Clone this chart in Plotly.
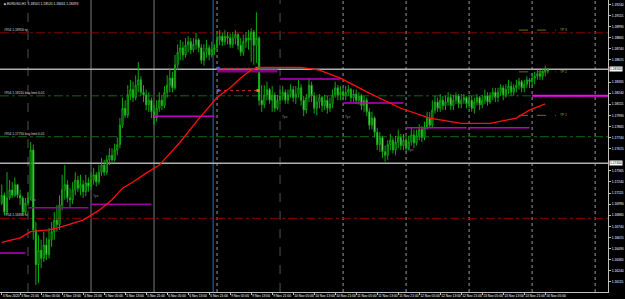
import plotly.graph_objects as go

# ---------------- data (EURUSD H1) ----------------
first_open = 1.1700
close = [
 1.1709,1.1690,1.1706,1.1715,1.1709,1.1721,1.1709,1.1706,1.1690,1.1700,
 1.1706,1.1760,1.1670,1.1631,1.1647,1.1638,1.1653,1.1642,1.1659,1.1668,1.1681,1.1676,1.1698,1.1715,1.1721,1.1706,1.1704,1.1715,1.1726,1.1717,1.1721,1.1713,1.1723,1.1719,
 1.1726,1.1732,1.1724,1.1735,1.1743,1.1735,1.1749,1.1754,1.1749,1.1760,1.1766,1.1788,1.1807,1.1799,1.1822,1.1828,1.1819,1.1833,1.1839,1.1825,1.1822,1.1811,1.1816,1.1803,
 1.1796,1.1807,1.1816,1.1810,1.1825,1.1833,1.1841,1.1830,1.1856,1.1870,1.1875,1.1867,1.1878,1.1882,1.1873,1.1879,1.1884,1.1875,1.1861,1.1870,1.1875,1.1867,1.1873,1.1875,
 1.1884,1.1888,1.1882,1.1888,1.1886,1.1879,1.1886,1.1890,1.1878,1.1870,1.1882,1.1886,1.1884,1.1893,1.1878,1.1886,1.1816,1.1811,1.1822,1.1828,1.1816,1.1822,1.1807,1.1816,
 1.1821,1.1825,1.1816,1.1822,1.1828,1.1819,1.1823,1.1830,1.1816,1.1805,1.1819,1.1833,1.1821,1.1807,1.1814,1.1819,1.1810,1.1816,1.1807,1.1812,1.1822,1.1830,1.1822,1.1825,
 1.1821,1.1825,1.1828,1.1819,1.1823,1.1816,1.1821,1.1810,1.1816,1.1803,1.1788,1.1796,1.1780,1.1766,1.1774,1.1758,1.1754,1.1766,1.1771,1.1760,1.1769,1.1774,1.1765,1.1771,
 1.1762,1.1769,1.1777,1.1768,1.1776,1.1783,1.1774,1.1785,1.1796,1.1788,1.1805,1.1814,1.1807,1.1816,1.1810,1.1814,1.1819,1.1810,1.1816,1.1821,1.1812,1.1816,1.1819,1.1812,
 1.1816,1.1807,1.1814,1.1819,1.1811,1.1816,1.1821,1.1814,1.1821,1.1825,1.1819,1.1825,1.1830,1.1822,1.1828,1.1832,1.1825,1.1830,1.1833,1.1837,1.1830,1.1834,1.1839,1.1837,
 1.1841,1.1843,1.1846,1.1843,1.1848,1.1850,1.1849,
]
high = [
 1.1721,1.1712,1.1735,1.1726,1.1724,1.1729,1.1722,1.1715,1.1708,1.1706,
 1.1713,1.1769,1.1766,1.1679,1.1664,1.1659,1.1668,1.1661,1.1672,1.1679,1.1690,1.1698,1.1709,1.1732,1.1743,1.1726,1.1717,1.1724,1.1735,1.1731,1.1732,1.1726,1.1732,1.1729,
 1.1735,1.1740,1.1735,1.1743,1.1751,1.1749,1.1754,1.1762,1.1762,1.1767,1.1774,1.1796,1.1819,1.1816,1.1833,1.1839,1.1837,1.1844,1.1859,1.1843,1.1833,1.1828,1.1825,1.1819,
 1.1811,1.1816,1.1825,1.1822,1.1832,1.1844,1.1852,1.1848,1.1867,1.1879,1.1884,1.1882,1.1886,1.1888,1.1886,1.1886,1.1892,1.1886,1.1879,1.1879,1.1884,1.1878,1.1882,1.1879,
 1.1893,1.1895,1.1892,1.1895,1.1893,1.1891,1.1893,1.1895,1.1892,1.1886,1.1890,1.1893,1.1895,1.1897,1.1895,1.1915,1.1888,1.1833,1.1833,1.1837,1.1830,1.1832,1.1825,1.1822,
 1.1828,1.1832,1.1828,1.1828,1.1834,1.1832,1.1832,1.1839,1.1834,1.1821,1.1823,1.1841,1.1837,1.1825,1.1822,1.1823,1.1821,1.1822,1.1821,1.1819,1.1828,1.1837,1.1833,1.1832,
 1.1830,1.1832,1.1833,1.1830,1.1828,1.1828,1.1825,1.1823,1.1821,1.1819,1.1807,1.1803,1.1798,1.1785,1.1780,1.1776,1.1765,1.1771,1.1778,1.1774,1.1776,1.1783,1.1778,1.1778,
 1.1776,1.1776,1.1785,1.1783,1.1783,1.1789,1.1787,1.1792,1.1803,1.1803,1.1816,1.1821,1.1819,1.1823,1.1821,1.1821,1.1825,1.1823,1.1822,1.1825,1.1823,1.1823,1.1823,1.1821,
 1.1822,1.1821,1.1819,1.1823,1.1821,1.1822,1.1828,1.1825,1.1825,1.1830,1.1830,1.1830,1.1834,1.1833,1.1834,1.1839,1.1837,1.1834,1.1839,1.1841,1.1839,1.1839,1.1843,1.1841,
 1.1846,1.1848,1.1850,1.1850,1.1852,1.1855,1.1852,
]
low = [
 1.1698,1.1687,1.1688,1.1704,1.1706,1.1707,1.1706,1.1698,1.1687,1.1687,
 1.1697,1.1704,1.1659,1.1608,1.1610,1.1627,1.1634,1.1636,1.1638,1.1651,1.1659,1.1668,1.1670,1.1692,1.1704,1.1701,1.1695,1.1699,1.1709,1.1713,1.1709,1.1706,1.1708,1.1713,
 1.1715,1.1721,1.1719,1.1721,1.1731,1.1731,1.1732,1.1743,1.1745,1.1747,1.1754,1.1762,1.1785,1.1796,1.1796,1.1816,1.1814,1.1816,1.1825,1.1821,1.1814,1.1805,1.1803,1.1796,
 1.1788,1.1792,1.1803,1.1805,1.1807,1.1819,1.1825,1.1825,1.1828,1.1850,1.1861,1.1861,1.1864,1.1870,1.1868,1.1870,1.1873,1.1870,1.1857,1.1855,1.1864,1.1861,1.1864,1.1867,
 1.1873,1.1878,1.1877,1.1878,1.1879,1.1875,1.1875,1.1879,1.1873,1.1866,1.1866,1.1875,1.1873,1.1859,1.1856,1.1858,1.1810,1.1803,1.1807,1.1816,1.1812,1.1803,1.1803,1.1805,
 1.1812,1.1816,1.1812,1.1812,1.1819,1.1814,1.1812,1.1819,1.1810,1.1798,1.1801,1.1814,1.1814,1.1801,1.1799,1.1807,1.1803,1.1805,1.1801,1.1803,1.1807,1.1819,1.1816,1.1816,
 1.1816,1.1816,1.1821,1.1814,1.1814,1.1812,1.1811,1.1805,1.1803,1.1798,1.1783,1.1783,1.1774,1.1760,1.1758,1.1751,1.1747,1.1749,1.1760,1.1756,1.1754,1.1762,1.1760,1.1760,
 1.1758,1.1760,1.1765,1.1762,1.1765,1.1771,1.1769,1.1771,1.1783,1.1785,1.1785,1.1801,1.1803,1.1803,1.1805,1.1805,1.1810,1.1805,1.1805,1.1812,1.1807,1.1807,1.1812,1.1807,
 1.1807,1.1803,1.1801,1.1810,1.1805,1.1807,1.1812,1.1810,1.1812,1.1816,1.1814,1.1814,1.1821,1.1816,1.1819,1.1823,1.1821,1.1821,1.1825,1.1828,1.1825,1.1825,1.1830,1.1830,
 1.1832,1.1834,1.1839,1.1839,1.1839,1.1843,1.1846,
]

# moving average (red line) read at a few bars
ma_bar = [0, 7, 11, 18, 21, 31, 37, 42, 46, 50, 55, 60, 68, 75, 82, 87, 91, 95, 98, 106, 114, 121, 129, 140, 152, 163, 175, 186, 196, 201, 207]
ma_val = [1.1656, 1.1661, 1.1668, 1.1670, 1.1672, 1.1681, 1.1692, 1.1704, 1.1717, 1.1724, 1.1734, 1.1743, 1.1769, 1.1795, 1.1819,
          1.1830, 1.1841, 1.1850, 1.1853, 1.1853, 1.1853, 1.1850, 1.1841, 1.1824, 1.1807, 1.1796, 1.1790, 1.1790, 1.1796, 1.1805, 1.1812]

# daily level segments (magenta)
seg_start = [-1, 10, 34, 58, 82, 106, 130, 154, 178, 202]
seg_end = [9, 33, 57, 81, 105, 129, 153, 177, 201, 231]
seg_price = [1.1644, 1.1695, 1.1699, 1.1798, 1.1849, 1.1840, 1.1813, 1.1785, 1.1785, 1.1821]
seg_color = ["#c000c0", "#a000a0", "#a000a0", "#c000c0", "#800080", "#c000c0", "#c000c0", "#c000c0", "#c000c0", "#ff00ff"]
seg_width = [1.5, 1.5, 1.5, 1.5, 3, 1.5, 1.5, 1.5, 1.5, 2]

# order lines
order_price = [1.1892, 1.1821, 1.1775, 1.1683]
order_text = ["#954 1.18920 tp", "#954 1.18210 buy limit 0.01", "#954 1.17750 buy limit 0.01", "#954 1.16830 sl"]
order_color = ["#8b0000", "#0a6a0a", "#0a6a0a", "#8b0000"]

# horizontal price lines (gray)
hline_price = [1.1851, 1.1745]
hline_label = ["1.18505", "1.17450"]

# target levels at the right (olive)
tgt_price = [1.1895, 1.1848, 1.1799]
tgt_text = ["TP 3", "TP 2", "TP 1"]

# session labels
sess_bar = [10, 34, 106, 130, 154]
sess_price = [1.1704, 1.1708, 1.1797, 1.1797, 1.1760]
sess_text = ["Nyo", "Tyo", "Tyo", "Tyo", "Tyo"]

# day separators (bar index)
sep_bar = [10, 34, 58, 82, 106, 130, 154, 178, 202, 226]
sep_style = ["dash", "solid", "solid", "dot", "dash", "dot", "dot", "dot", "dot", "dot"]
sep_color = ["#505050", "#7a7a7a", "#7a7a7a", "#9a9a9a", "#505050", "#9a9a9a", "#9a9a9a", "#9a9a9a", "#9a9a9a", "#9a9a9a"]

# x-axis labels
xtick_bar = [0, 7, 15, 23, 31, 39, 47, 55, 63, 71, 79, 87, 95, 103, 111, 119, 127, 135, 143, 151, 159, 167, 175, 183, 191, 199, 207]
xtick_text = ["3 Nov 2020", "3 Nov 21:00", "4 Nov 05:00", "4 Nov 13:00", "4 Nov 21:00", "5 Nov 05:00", "5 Nov 13:00",
              "5 Nov 21:00", "6 Nov 05:00", "6 Nov 13:00", "6 Nov 21:00", "9 Nov 05:00", "9 Nov 13:00", "9 Nov 21:00",
              "10 Nov 05:00", "10 Nov 13:00", "10 Nov 21:00", "11 Nov 05:00", "11 Nov 13:00", "11 Nov 21:00",
              "12 Nov 05:00", "12 Nov 13:00", "12 Nov 21:00", "13 Nov 05:00", "13 Nov 13:00", "13 Nov 21:00", "16 Nov 05:00"]

# y-axis labels (those hidden behind the two price boxes are left out)
ytick_text = ["1.15990", "1.16115", "1.16240", "1.16365", "1.16490", "1.16615", "1.16740", "1.16865", "1.16990",
              "1.17115", "1.17240", "1.17365", "1.17615", "1.17740", "1.17865", "1.17990", "1.18115",
              "1.18240", "1.18365", "1.18615", "1.18740", "1.18865", "1.18990", "1.19115", "1.19240"]

# trade history markers
trade_x0 = [82.4, 82.4]
trade_x1 = [97.2, 97.6]
trade_price = [1.1852, 1.1827]

header = "EURUSD,H1  1.18501 1.18520 1.18461 1.18493"

FONT = "Liberation Sans"
FS = 3.3

# ---------------- figure ----------------
open_ = [first_open] + close[:-1]
bars = list(range(len(close)))

fig = go.Figure()

for b, st, col in zip(sep_bar, sep_style, sep_color):
    fig.add_shape(type="line", xref="x", yref="paper", x0=b, x1=b, y0=0, y1=1,
                  line=dict(color=col, width=1, dash=st), layer="below")
fig.add_shape(type="line", xref="x", yref="paper", x0=80.5, x1=80.5, y0=0, y1=1,
              line=dict(color="#2f6f9f", width=1), layer="below")

for p in hline_price:
    fig.add_shape(type="line", xref="paper", yref="y", x0=0, x1=1, y0=p, y1=p,
                  line=dict(color="#b0b0b0", width=1.5), layer="below")

for p, t, c in zip(order_price, order_text, order_color):
    fig.add_shape(type="line", xref="paper", yref="y", x0=0, x1=1, y0=p, y1=p,
                  line=dict(color=c, width=1, dash="dashdot"), layer="below")
    fig.add_annotation(x=0.003, xref="paper", y=p, yref="y", text=t, showarrow=False,
                       xanchor="left", yanchor="bottom", font=dict(size=FS, color="#d8d8d8"), yshift=-1)

for p, t in zip(tgt_price, tgt_text):
    fig.add_trace(go.Scatter(x=[197, 211], y=[p, p], mode="lines", line=dict(color="#6b6b20", width=1, dash="dash"),
                             hoverinfo="skip", showlegend=False))
    fig.add_annotation(x=212, xref="x", y=p, yref="y", text=t, showarrow=False, xanchor="left",
                       font=dict(size=FS, color="#a0a040"))

for b, p, t in zip(sess_bar, sess_price, sess_text):
    fig.add_annotation(x=b, xref="x", y=p, yref="y", text=t, showarrow=False, xanchor="left",
                       font=dict(size=FS, color="#8090a0"))

for s, e, p, c, w in zip(seg_start, seg_end, seg_price, seg_color, seg_width):
    fig.add_trace(go.Scatter(x=[s, e], y=[p, p], mode="lines", line=dict(color=c, width=w),
                             hoverinfo="skip", showlegend=False))

for a, b, p in zip(trade_x0, trade_x1, trade_price):
    fig.add_trace(go.Scatter(x=[a, b], y=[p, p], mode="lines", line=dict(color="#d02020", width=1, dash="dot"),
                             showlegend=False, hoverinfo="skip"))
    fig.add_trace(go.Scatter(x=[a], y=[p], mode="markers", marker=dict(color="#4060ff", size=3, symbol="square"),
                             showlegend=False, hoverinfo="skip"))
    fig.add_trace(go.Scatter(x=[b], y=[p], mode="markers", marker=dict(color="#e08020", size=3, symbol="square"),
                             showlegend=False, hoverinfo="skip"))

fig.add_trace(go.Candlestick(
    x=bars, open=open_, high=high, low=low, close=close,
    increasing=dict(line=dict(color="#10a810", width=1), fillcolor="#000000"),
    decreasing=dict(line=dict(color="#10a810", width=1), fillcolor="#ffffff"),
    whiskerwidth=0, showlegend=False, hoverinfo="skip"))

fig.add_trace(go.Scatter(x=ma_bar, y=ma_val, mode="lines", line=dict(color="#ff1010", width=1.3),
                         showlegend=False, hoverinfo="skip"))

for p, t in zip(hline_price, hline_label):
    fig.add_annotation(x=1, xref="paper", y=p, yref="y", text=t, showarrow=False, xanchor="left",
                       xshift=1, font=dict(size=FS, color="#000000"), bgcolor="#ffffff", borderpad=0)

fig.add_annotation(x=0.003, xref="paper", y=1, yref="paper", text="\u25a0 " + header, showarrow=False,
                   xanchor="left", yanchor="top", font=dict(size=FS, color="#e0e0e0"))

fig.update_layout(
    width=625, height=299,
    margin=dict(l=0, r=17, t=0, b=7),
    paper_bgcolor="#000000", plot_bgcolor="#000000",
    font=dict(family=FONT, color="#ffffff", size=FS),
    showlegend=False, boxgap=0.35,
    xaxis=dict(range=[-0.667, 230.9], tickmode="array", tickvals=xtick_bar, ticktext=xtick_text,
               tickangle=0, showgrid=False, zeroline=False, showline=True, linecolor="#c0c0c0", linewidth=1,
               ticks="outside", ticklen=2, tickcolor="#c0c0c0", ticklabelposition="outside right",
               tickfont=dict(family=FONT, size=FS, color="#ffffff"), rangeslider=dict(visible=False)),
    yaxis=dict(range=[1.16001, 1.19289], side="right", tickmode="array",
               tickvals=[float(t) for t in ytick_text], ticktext=ytick_text,
               showgrid=False, zeroline=False, showline=True, linecolor="#c0c0c0", linewidth=1,
               ticks="outside", ticklen=2, tickcolor="#c0c0c0",
               tickfont=dict(family=FONT, size=FS, color="#ffffff")),
)

fig.write_html("out.html")
